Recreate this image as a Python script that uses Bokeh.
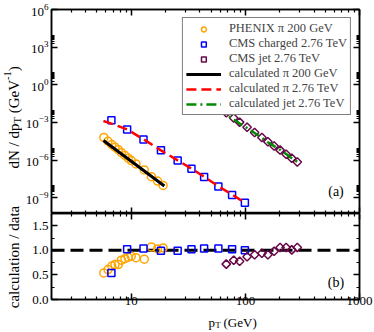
import numpy as np
from bokeh.plotting import figure
from bokeh.layouts import column, row
from bokeh.models import (FixedTicker, Legend, LegendItem, Label, LogAxis, LinearAxis,
                          CustomJSTickFormatter, Range1d, Span, PrintfTickFormatter)
from bokeh.embed import file_html
from bokeh.resources import INLINE

# ---------------- data ----------------
phenix_pt = [5.75, 6.25, 6.75, 7.2, 7.7, 8.2, 8.8, 9.4, 10.0, 11.0, 13.0, 15.0, 17.0, 19.0]
phenix_yield = [6.4e-5, 3.2e-5, 1.73e-5, 1.07e-5, 6.8e-6, 3.9e-6, 2.34e-6, 1.44e-6,
                9.2e-7, 5.0e-7, 1.65e-7, 4.8e-8, 2.14e-8, 9.7e-9]
phenix_ratio = [0.54, 0.61, 0.68, 0.71, 0.71, 0.80, 0.83, 0.86, 0.88, 0.85, 0.82, 1.07, 1.03, 1.05]

cms_pt = [6.7, 9.2, 12.8, 18.2, 25.5, 33.7, 43.5, 58.0, 76.5, 99.0]
cms_yield = [1.5e-3, 2.75e-4, 4.4e-5, 6.0e-6, 9.5e-7, 2.1e-7, 4.5e-8, 7.9e-9, 1.7e-9, 4.0e-10]
cms_ratio = [0.54, 1.02, 1.04, 0.99, 0.99, 1.02, 1.04, 1.04, 1.02, 1.00]

jet_pt = [68, 79, 89, 103.5, 120.5, 139.6, 157.5, 178.6, 201.5, 227.5, 255, 285]
jet_yield = [5.9e-3, 2.26e-3, 1.06e-3, 4.1e-4, 1.59e-4, 6.3e-5, 2.95e-5, 1.33e-5,
             6.3e-6, 2.9e-6, 1.43e-6, 7.0e-7]
jet_ratio = [0.72, 0.80, 0.78, 0.87, 0.91, 0.94, 0.91, 0.98, 1.06, 1.06, 1.01, 1.06]

calc_pi200_pt = [5.7, 8.0, 12.0, 19.5]
calc_pi200 = [3.7e-5, 3.7e-6, 2.34e-7, 8.6e-9]
calc_pi276_pt = [5.7, 6.7, 9.2, 12.8, 18.2, 25.5, 33.7, 43.5, 58.0, 76.5, 99.0]
calc_pi276 = [1.3e-3, 8.1e-4, 2.8e-4, 4.6e-5, 6.0e-6, 9.5e-7, 2.1e-7, 4.7e-8, 8.3e-9, 1.8e-9, 4.0e-10]
calc_jet_pt = [40, 68, 79, 89, 103.5, 120.5, 139.6, 157.5, 178.6, 201.5, 227.5, 255, 285, 300]
calc_jet = [8.2e-2, 4.24e-3, 1.81e-3, 8.3e-4, 3.6e-4, 1.45e-4, 5.9e-5, 2.69e-5, 1.30e-5,
            6.6e-6, 3.07e-6, 1.44e-6, 7.4e-7, 5.5e-7]

unity = 1.0

x_major = [10, 100, 1000]
x_minor = [2, 3, 4, 5, 6, 7, 8, 9, 20, 30, 40, 50, 60, 70, 80, 90,
           200, 300, 400, 500, 600, 700, 800, 900]
y_top_major = [1e-9, 1e-6, 1e-3, 1e0, 1e3, 1e6]
y_top_minor = [k * 10.0 ** m for m in (-9, -6, -3, 0, 3) for k in range(2, 10)]
y_bot_major = [0.0, 0.5, 1.0, 1.5]
y_bot_minor = [0.25, 0.75, 1.25, 1.75]

FONT = "Liberation Serif"
ORANGE = "#FFA500"
BLUE = "#0000FF"
MAROON = "#670748"
GREEN = "#008B00"
RED = "#FF0000"


def style_axis(ax, labels=True, size=13, standoff=3):
    ax.major_tick_in = 6
    ax.major_tick_out = 0
    ax.minor_tick_in = 3
    ax.minor_tick_out = 0
    ax.axis_line_width = 1.5
    ax.major_tick_line_width = 1.5
    ax.minor_tick_line_width = 1.2
    ax.axis_line_color = "black"
    ax.major_tick_line_color = "black"
    ax.minor_tick_line_color = "black"
    ax.axis_label = None
    if labels:
        ax.major_label_text_font = FONT
        ax.major_label_text_font_size = f"{size}px"
        ax.major_label_text_color = "black"
        ax.major_label_standoff = standoff
    else:
        ax.formatter = CustomJSTickFormatter(code="return ''")
        ax.major_label_text_font_size = "0px"
        ax.major_label_standoff = 0


def lab(fig, text, x, y, size, angle=0, align="left", baseline="alphabetic"):
    fig.add_layout(Label(x=x, y=y, x_units="screen", y_units="screen", text=text,
                         text_font=FONT, text_font_size=f"{size}px", angle=angle,
                         angle_units="deg", text_align=align, text_baseline=baseline,
                         text_color="black"))


def blank_fig(w, h):
    f = figure(width=w, height=h, x_range=Range1d(0, w), y_range=Range1d(0, h),
               x_axis_location=None, y_axis_location=None,
               output_backend="svg", toolbar_location=None,
               min_border_left=0, min_border_right=0, min_border_top=0, min_border_bottom=0,
               background_fill_color="white", border_fill_color="white")
    f.outline_line_color = None
    f.grid.visible = False
    return f


x_range = Range1d(2, 1000)

# ---------------- top panel ----------------
top = figure(width=352, height=213, x_axis_type="log", y_axis_type="log",
             x_range=x_range, y_range=Range1d(5.6e-11, 1e6),
             output_backend="svg", toolbar_location=None,
             min_border_left=29, min_border_right=15, min_border_top=9, min_border_bottom=0,
             background_fill_color="white", border_fill_color="white")
top.grid.visible = False
top.outline_line_color = "black"
top.outline_line_width = 1.5

top.xaxis.ticker = FixedTicker(ticks=x_major, minor_ticks=x_minor)
style_axis(top.xaxis[0], labels=False)
top.yaxis.ticker = FixedTicker(ticks=y_top_major, minor_ticks=y_top_minor)
style_axis(top.yaxis[0], labels=True, size=13, standoff=3)

ax = LogAxis(ticker=FixedTicker(ticks=x_major, minor_ticks=x_minor))
style_axis(ax, labels=False)
top.add_layout(ax, "above")
ax = LogAxis(ticker=FixedTicker(ticks=y_top_major, minor_ticks=y_top_minor))
style_axis(ax, labels=False)
top.add_layout(ax, "right")

r_ph = top.scatter(phenix_pt, phenix_yield, marker="circle", size=8, line_color=ORANGE,
                   fill_color=None, line_width=1.5)
r_cms = top.scatter(cms_pt, cms_yield, marker="square", size=7, line_color=BLUE,
                    fill_color=None, line_width=1.5)
r_jet = top.scatter(jet_pt, jet_yield, marker="square", angle=np.pi / 4, size=6,
                    line_color=MAROON, fill_color=None, line_width=1.5)
r_c200 = top.line(calc_pi200_pt, calc_pi200, line_color="black", line_width=3)
r_c276 = top.line(calc_pi276_pt, calc_pi276, line_color=RED, line_width=2.5, line_dash="10 5")
r_cjet = top.line(calc_jet_pt, calc_jet, line_color=GREEN, line_width=2.5, line_dash="10 4 2 4")

legend = Legend(items=[
    LegendItem(label="PHENIX π 200 GeV", renderers=[r_ph]),
    LegendItem(label="CMS charged 2.76 TeV", renderers=[r_cms]),
    LegendItem(label="CMS jet 2.76 TeV", renderers=[r_jet]),
    LegendItem(label="calculated π 200 GeV", renderers=[r_c200]),
    LegendItem(label="calculated π 2.76 TeV", renderers=[r_c276]),
    LegendItem(label="calculated jet 2.76 TeV", renderers=[r_cjet]),
], location="top_right")
legend.label_text_font = FONT
legend.label_text_font_size = "12.5px"
legend.label_height = 12
legend.glyph_height = 12
legend.glyph_width = 35
legend.label_standoff = 8
legend.spacing = 0
legend.padding = 3
legend.margin = 8
legend.border_line_color = "black"
legend.border_line_width = 1.5
legend.background_fill_color = "white"
legend.background_fill_alpha = 1.0
top.add_layout(legend)

lab(top, "(a)", 284.5, 22.5, 14, 0, "center", "middle")

# ---------------- bottom panel ----------------
bot = figure(width=352, height=101, x_axis_type="log",
             x_range=x_range, y_range=Range1d(0, 1.75),
             output_backend="svg", toolbar_location=None,
             min_border_left=29, min_border_right=15, min_border_top=0, min_border_bottom=15,
             background_fill_color="white", border_fill_color="white")
bot.grid.visible = False
bot.outline_line_color = "black"
bot.outline_line_width = 1.5

bot.xaxis.ticker = FixedTicker(ticks=x_major, minor_ticks=x_minor)
bot.xaxis.formatter = PrintfTickFormatter(format="%d")
style_axis(bot.xaxis[0], labels=True, size=13, standoff=-3)
bot.yaxis.ticker = FixedTicker(ticks=y_bot_major, minor_ticks=y_bot_minor)
bot.yaxis.formatter = PrintfTickFormatter(format="%.1f")
style_axis(bot.yaxis[0], labels=True, size=13, standoff=3)

ax = LogAxis(ticker=FixedTicker(ticks=x_major, minor_ticks=x_minor))
style_axis(ax, labels=False)
bot.add_layout(ax, "above")
ax = LinearAxis(ticker=FixedTicker(ticks=y_bot_major, minor_ticks=y_bot_minor))
style_axis(ax, labels=False)
bot.add_layout(ax, "right")

bot.add_layout(Span(location=unity, dimension="width", line_color="black", line_width=3,
                    line_dash="13 6", level="underlay"))
bot.scatter(phenix_pt, phenix_ratio, marker="circle", size=8, line_color=ORANGE,
            fill_color=None, line_width=1.5)
bot.scatter(cms_pt, cms_ratio, marker="square", size=7, line_color=BLUE,
            fill_color=None, line_width=1.5)
bot.scatter(jet_pt, jet_ratio, marker="square", angle=np.pi / 4, size=6,
            line_color=MAROON, fill_color=None, line_width=1.5)

lab(bot, "(b)", 284.5, 17, 14, 0, "center", "middle")

# ---------------- axis titles (own small canvases) ----------------
left = blank_fig(22, 332)
bx = 13
lab(left, "dN / dp", bx, 164, 15, 90)
lab(left, "T", bx + 3.5, 209, 10.5, 90)
lab(left, "(GeV", bx, 219.2, 15, 90)
lab(left, "-1", bx - 6, 252.5, 10.5, 90)
lab(left, ")", bx, 261.2, 15, 90)
lab(left, "calculation / data", bx, 75.5, 15, 90, "center")

xt = blank_fig(352, 18)
lab(xt, "p", 157, 10, 13)
lab(xt, "T", 163.8, 7.8, 9)
lab(xt, "(GeV)", 172, 10, 13)

layout = row(left, column(top, bot, xt, spacing=0), spacing=0)
open("out.html", "w").write(file_html(layout, INLINE))
